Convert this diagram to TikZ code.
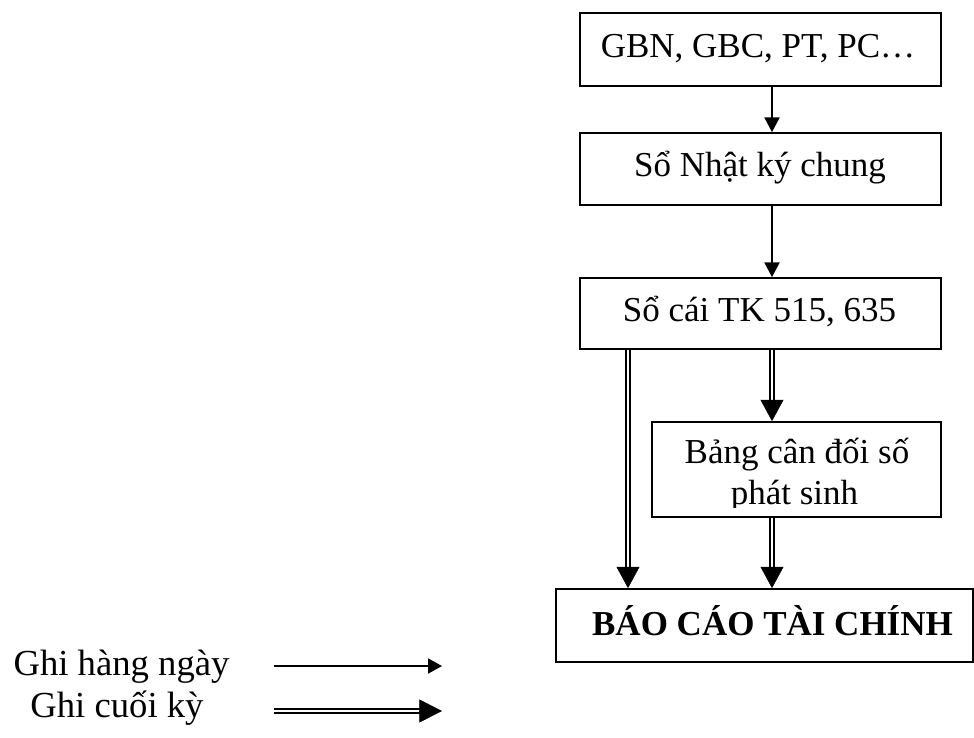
\documentclass[tikz,border=0pt]{standalone}
\usepackage{fontspec}
\setmainfont{Liberation Serif}
\usetikzlibrary{arrows.meta,calc}
\begin{document}
\begin{tikzpicture}[x=0.75pt,y=-0.75pt,
  box/.style={draw, line width=1.3pt, inner sep=0pt},
  txt/.style={font=\fontsize{26.25}{30}\selectfont, anchor=base, inner sep=0pt},
  lgd/.style={font=\fontsize{27.5}{32}\selectfont, anchor=base, inner sep=0pt},
  flow/.style={line width=1.4pt, -{Triangle[width=11.25pt,length=11pt]}},
  dbl/.style={line width=1.2pt, double, double distance=1.8pt},
  dtip/.style={line width=0.4pt, -{Triangle[width=17.25pt,length=16pt]}}]
\useasboundingbox (0,0) rectangle (974,738);

% boxes
\node[box, minimum width=270.75pt, minimum height=54.75pt] (src)  at (760.5,49.5)  {};
\node[box, minimum width=270.75pt, minimum height=54pt]    (nkc)  at (760.5,169)   {};
\node[box, minimum width=270.75pt, minimum height=53.25pt] (sc)   at (760.5,313.5) {};
\node[box, minimum width=216.75pt, minimum height=71.25pt] (cdps) at (796.5,469.5) {};
\node[box, minimum width=312.75pt, minimum height=54.75pt] (bctc) at (764.5,625.5) {};

% box texts
\node[txt] (tsrc) at (758,58)    {GBN, GBC, PT, PC…};
\node[txt] (tnkc) at (760,176.5) {Sổ Nhật ký chung};
\node[txt] (tsc)  at (759.5,321) {Sổ cái TK 515, 635};
\begin{scope}
  \clip (653,423) rectangle (940,507);
  \node[txt] (tcd1) at (797,463)   {Bảng cân đối số};
  \node[txt] (tcd2) at (794.5,504) {phát sinh};
\end{scope}
\node[txt, font=\fontsize{26.25}{30}\selectfont\bfseries] (tbc) at (772.5,635) {BÁO CÁO TÀI CHÍNH};

% column positions of the connectors
\coordinate (cm) at (772,0);
\coordinate (cl) at (628,0);

% daily entries
\draw[flow] (src.south -| cm) -- (nkc.north -| cm);
\draw[flow] (nkc.south -| cm) -- (sc.north -| cm);

% period-end entries
\coordinate (e1) at ($(cdps.north -| cm)+(0,-19.5)$);
\coordinate (e2) at ($(bctc.north -| cl)+(0,-19.5)$);
\coordinate (e3) at ($(bctc.north -| cm)+(0,-19.5)$);
\draw[dbl] (sc.south -| cm) -- (e1);
\draw[dtip] ($(e1)+(0,-1)$) -- (cdps.north -| cm);
\draw[dbl] (sc.south -| cl) -- (e2);
\draw[dtip] ($(e2)+(0,-1)$) -- (bctc.north -| cl);
\draw[dbl] (cdps.south -| cm) -- (e3);
\draw[dtip] ($(e3)+(0,-1)$) -- (bctc.north -| cm);

% legend
\node[lgd] (lg1) at (121.5,675) {Ghi hàng ngày};
\node[lgd] (lg2) at (117,717)   {Ghi cuối kỳ};
\coordinate (a1s) at (274,666);
\coordinate (a1e) at (442,666);
\coordinate (a2s) at (274,711);
\coordinate (a2e) at (442,711);
\coordinate (a2m) at (421,711);
\draw[flow, -{Triangle[width=11.25pt,length=10.5pt]}] (a1s) -- (a1e);
\draw[dbl] (a2s) -- (a2m);
\draw[dtip, -{Triangle[width=17.25pt,length=17pt]}] ($(a2m)+(-1,0)$) -- (a2e);
\end{tikzpicture}
\end{document}
